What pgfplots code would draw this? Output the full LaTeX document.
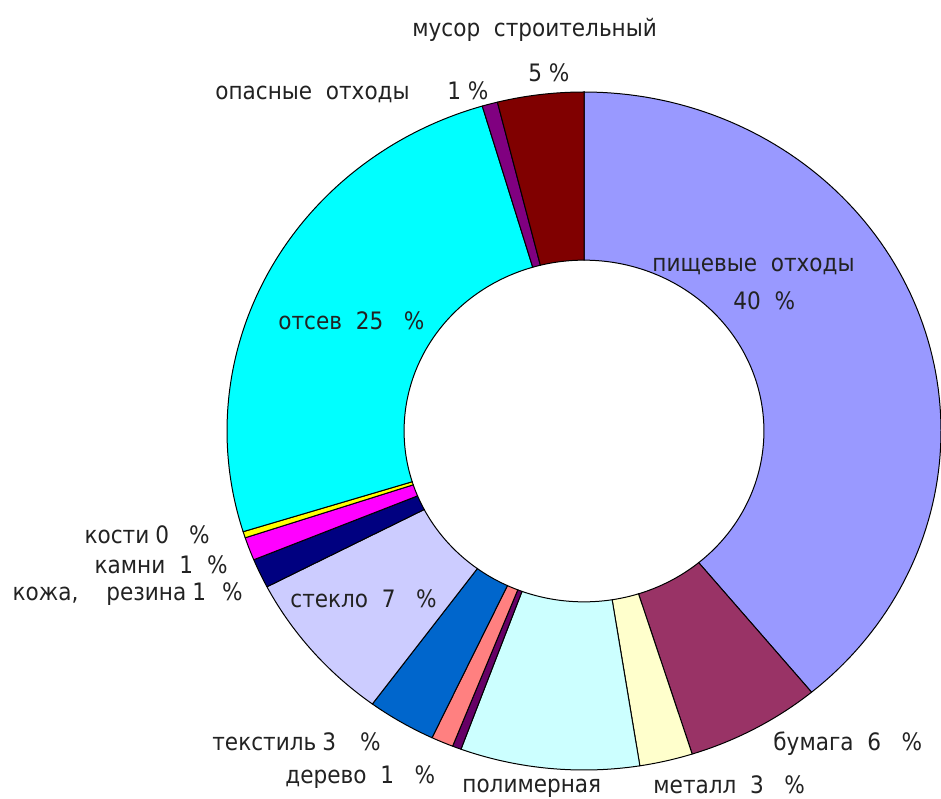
\documentclass[border=0pt]{standalone}
\usepackage{fontspec}
\setmainfont{DejaVu Sans Condensed}
\usepackage{pgfplots}
\usepackage{pgfplotstable}
\pgfplotsset{compat=1.18}

\definecolor{cFood}{HTML}{9999FF}
\definecolor{cPaper}{HTML}{993366}
\definecolor{cMetal}{HTML}{FFFFCC}
\definecolor{cPoly}{HTML}{CCFFFF}
\definecolor{cThin}{HTML}{660066}
\definecolor{cWood}{HTML}{FF8080}
\definecolor{cTextile}{HTML}{0066CC}
\definecolor{cGlass}{HTML}{CCCCFF}
\definecolor{cLeather}{HTML}{000080}
\definecolor{cStone}{HTML}{FF00FF}
\definecolor{cBone}{HTML}{FFFF00}
\definecolor{cSieve}{HTML}{00FFFF}
\definecolor{cHazard}{HTML}{800080}
\definecolor{cBuild}{HTML}{800000}
\definecolor{txt}{HTML}{222222}

% shares of the ring, clockwise from 12 o'clock (percent)
\pgfplotstableread{
value
39.0
6.1
2.4
8.1
0.4
1.0
3.1
7.3
1.4
1.1
0.3
25.2
0.7
3.9
}\wastedata

\begin{document}
\begin{tikzpicture}
\useasboundingbox (0,0) rectangle (470.5pt,399pt);
\begin{axis}[at={(0,0)}, anchor=south west, x=178.5pt, y=169.5pt,
  xmin=-1.63585, xmax=1.0, ymin=-1.08260, ymax=1.27139,
  hide axis, clip=false]
\gdef\cumsum{0}
\foreach \i/\c in {0/cFood,1/cPaper,2/cMetal,3/cPoly,4/cThin,5/cWood,6/cTextile,7/cGlass,8/cLeather,9/cStone,10/cBone,11/cSieve,12/cHazard,13/cBuild}{
  \pgfplotstablegetelem{\i}{value}\of\wastedata
  \pgfmathsetmacro\sa{\cumsum*3.6}
  \pgfmathsetmacro\sb{(\cumsum+\pgfplotsretval)*3.6}
  \pgfmathsetmacro\newcum{\cumsum+\pgfplotsretval}
  \xdef\cumsum{\newcum}
  \edef\doplot{\noexpand\addplot[fill=\c, draw=black, line width=0.5pt,
     samples at={0,...,202}, variable=\noexpand\s]
     ({ (((\noexpand\s<100.5) || (\noexpand\s>201.5)) ? 1 : 0.504) * sin( (\noexpand\s<100.5) ? (\sa+(\sb-\sa)*\noexpand\s/100) : ((\noexpand\s>201.5) ? \sa : (\sb-(\sb-\sa)*(\noexpand\s-101)/100)) ) },
      { (((\noexpand\s<100.5) || (\noexpand\s>201.5)) ? 1 : 0.504) * cos( (\noexpand\s<100.5) ? (\sa+(\sb-\sa)*\noexpand\s/100) : ((\noexpand\s>201.5) ? \sa : (\sb-(\sb-\sa)*(\noexpand\s-101)/100)) ) });}
  \doplot
}
\end{axis}
\begin{scope}[x=0.5pt, y=-0.5pt, shift={(0pt,399pt)},
  every node/.style={font=\fontsize{12}{14}\selectfont, text=txt, inner sep=0pt}]
\node[anchor=base west] at (412,37) {мусор~~строительный};
\node[anchor=base west] at (528,82) {5~\%};
\node[anchor=base west] at (215,100) {опасные~~отходы};
\node[anchor=base west] at (447,100) {1~\%};
\node[anchor=base west] at (652,272) {пищевые~~отходы};
\node[anchor=base west] at (733,310) {40~~\%};
\node[anchor=base west] at (278,330) {отсев~~25~~~\%};
\node[anchor=base east] at (210,543) {кости\hspace{3pt}0\hspace{10pt}\%};
\node[anchor=base east] at (228,573) {камни\hspace{7pt}1\hspace{7pt}\%};
\node[anchor=base east] at (243,600) {кожа,\hspace{14pt}резина\hspace{3pt}1\hspace{8pt}\%};
\node[anchor=base west] at (290,607) {стекло~~7~~~\%};
\node[anchor=base west] at (212,750) {текстиль\hspace{3pt}3\hspace{12pt}\%};
\node[anchor=base west] at (285,783) {дерево~~1~~~\%};
\node[anchor=base west] at (462,792) {полимерная};
\node[anchor=base west] at (653,793) {металл~~3~~~\%};
\node[anchor=base west] at (773,750) {бумага~~6~~~\%};
\end{scope}
\end{tikzpicture}
\end{document}
